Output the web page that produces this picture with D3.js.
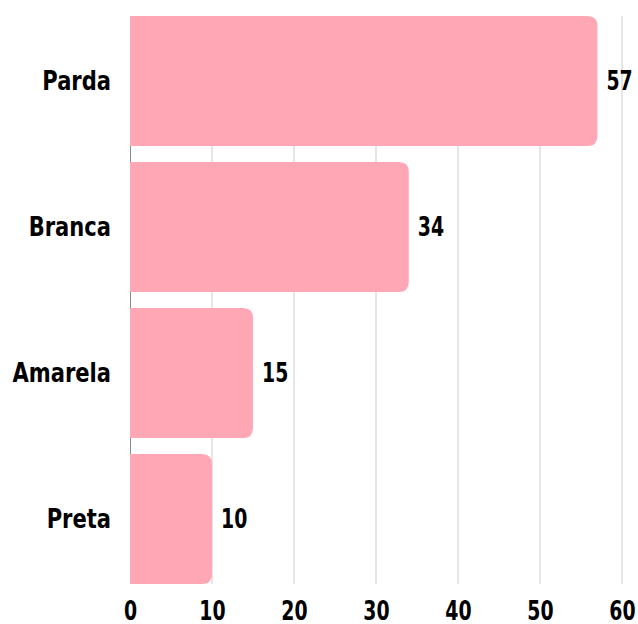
<!DOCTYPE html>
<html>
<head>
<meta charset="utf-8">
<script src="https://cdn.jsdelivr.net/npm/d3@7"></script>
<style>
  body { margin: 0; background: #fff; }
  text { font-family: "DejaVu Sans", sans-serif; font-weight: bold; }
</style>
</head>
<body>
<svg id="chart"></svg>
<script>
// data
const categories = ["Parda", "Branca", "Amarela", "Preta"];
const values = [57, 34, 15, 10];
const ticks = [0, 10, 20, 30, 40, 50, 60];

const width = 638, height = 624;
const margin = { top: 8, right: 16, bottom: 32, left: 130 };
const fontSize = 27;
const labelSqueeze = 0.78; // the reference uses a condensed face
const numSqueeze = 0.7;

const svg = d3.select("#chart").attr("width", width).attr("height", height);
const chart = svg.append("g").attr("transform", `translate(${margin.left},${margin.top})`);

const innerW = width - margin.left - margin.right;
const innerH = height - margin.top - margin.bottom;

const x = d3.scaleLinear().domain([0, 60]).range([0, innerW]);
const y = d3.scaleBand().domain(categories).range([0, innerH]).paddingInner(0.11).paddingOuter(0.055);

const data = categories.map((c, i) => ({ cat: c, val: values[i] }));

const gridTop = y(categories[0]);
const gridBottom = y(categories[3]) + y.bandwidth();

// gridlines
chart.append("g").selectAll("line")
  .data(ticks.slice(1))
  .join("line")
  .attr("x1", d => x(d)).attr("x2", d => x(d))
  .attr("y1", gridTop).attr("y2", gridBottom)
  .attr("stroke", "#ccc").attr("stroke-width", 1);

chart.append("line")
  .attr("x1", 0.5).attr("x2", 0.5)
  .attr("y1", gridTop).attr("y2", gridBottom)
  .attr("stroke", "#888");

// bars with rounded right end
const r = 10;
chart.append("g").selectAll("path")
  .data(data)
  .join("path")
  .attr("fill", "#ffa7b4")
  .attr("d", d => {
    const x0 = x(0), x1 = x(d.val), y0 = y(d.cat), h = y.bandwidth();
    return `M${x0},${y0}H${x1 - r}Q${x1},${y0} ${x1},${y0 + r}V${y0 + h - r}Q${x1},${y0 + h} ${x1 - r},${y0 + h}H${x0}Z`;
  });

// value labels
chart.append("g").selectAll("text")
  .data(data)
  .join("text")
  .attr("transform", d => `translate(${x(d.val) + 9},${y(d.cat) + y.bandwidth() / 2}) scale(${numSqueeze},1)`)
  .attr("dy", "0.35em")
  .attr("font-size", fontSize)
  .attr("fill", "#000")
  .text(d => d.val);

// y axis labels
const pad = 19;
const yAxis = d3.axisLeft(y).tickSize(0).tickPadding(pad);
chart.append("g").call(yAxis)
  .call(g => g.select(".domain").remove())
  .attr("font-family", null).attr("font-size", null)
  .selectAll("text")
  .attr("font-size", fontSize).attr("fill", "#000")
  .attr("x", -pad / labelSqueeze)
  .attr("transform", `scale(${labelSqueeze},1)`);

// x axis
const xAxis = d3.axisBottom(x).tickValues(ticks).tickSize(0);
chart.append("g")
  .attr("transform", `translate(0,${innerH})`)
  .call(xAxis)
  .call(g => g.select(".domain").remove())
  .attr("font-family", null).attr("font-size", null)
  .selectAll("text")
  .attr("font-size", fontSize).attr("fill", "#000")
  .attr("y", 28).attr("dy", null)
  .attr("transform", `scale(${numSqueeze},1)`);
</script>
</body>
</html>
